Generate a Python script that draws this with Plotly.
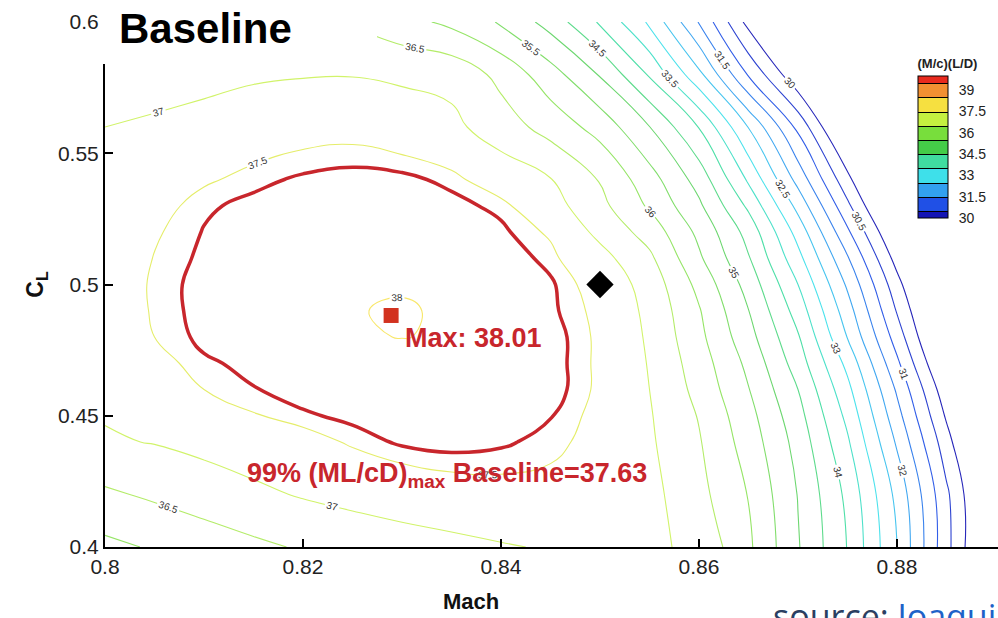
import plotly.graph_objects as go

# ---------------- data ----------------
mach = [0.800, 0.805, 0.810, 0.815, 0.820, 0.825, 0.830, 0.835, 0.840, 0.845,
        0.850, 0.855, 0.860, 0.865, 0.870, 0.875, 0.880, 0.885, 0.890]
cl = [0.40, 0.42, 0.44, 0.45, 0.46, 0.47, 0.48, 0.49, 0.50, 0.51, 0.52, 0.53, 0.54, 0.56, 0.58, 0.60]

ml_d_cl040 = [35.88, 36.05, 36.22, 36.40, 36.55, 36.65, 36.76, 36.86, 36.96, 37.04, 37.08, 37.10, 36.88, 36.09, 35.04, 33.98, 32.50, 30.66, 28.90]
ml_d_cl042 = [36.42, 36.58, 36.75, 36.90, 37.04, 37.16, 37.27, 37.35, 37.40, 37.40, 37.33, 37.15, 36.65, 35.98, 34.98, 33.88, 32.36, 30.60, 28.90]
ml_d_cl044 = [36.95, 37.02, 37.13, 37.25, 37.37, 37.54, 37.66, 37.70, 37.66, 37.57, 37.40, 37.07, 36.54, 35.78, 34.82, 33.57, 31.93, 30.20, 28.50]
ml_d_cl045 = [37.03, 37.18, 37.33, 37.48, 37.60, 37.68, 37.76, 37.79, 37.74, 37.64, 37.42, 37.04, 36.47, 35.67, 34.68, 33.37, 31.68, 29.93, 28.25]
ml_d_cl046 = [37.12, 37.30, 37.50, 37.62, 37.72, 37.79, 37.84, 37.85, 37.80, 37.72, 37.45, 37.00, 36.35, 35.52, 34.50, 33.14, 31.43, 29.66, 28.00]
ml_d_cl047 = [37.18, 37.40, 37.60, 37.68, 37.77, 37.85, 37.90, 37.90, 37.84, 37.72, 37.45, 36.97, 36.25, 35.38, 34.26, 32.86, 31.10, 29.30, 27.60]
ml_d_cl048 = [37.25, 37.50, 37.68, 37.81, 37.91, 37.98, 38.005, 37.98, 37.87, 37.72, 37.45, 36.93, 36.13, 35.18, 34.05, 32.48, 30.77, 28.98, 27.30]
ml_d_cl049 = [37.28, 37.53, 37.70, 37.83, 37.92, 37.995, 38.01, 37.985, 37.86, 37.67, 37.43, 36.88, 36.04, 35.01, 33.79, 32.22, 30.46, 28.80, 27.10]
ml_d_cl050 = [37.28, 37.54, 37.70, 37.82, 37.91, 37.97, 37.99, 37.95, 37.82, 37.66, 37.36, 36.80, 35.86, 34.81, 33.50, 31.92, 30.18, 28.50, 26.80]
ml_d_cl051 = [37.27, 37.51, 37.67, 37.78, 37.86, 37.91, 37.915, 37.87, 37.75, 37.57, 37.17, 36.60, 35.58, 34.54, 33.16, 31.55, 29.80, 28.10, 26.50]
ml_d_cl052 = [37.25, 37.47, 37.64, 37.73, 37.80, 37.83, 37.82, 37.77, 37.67, 37.46, 36.87, 36.30, 35.38, 34.32, 32.81, 31.09, 29.39, 27.80, 26.20]
ml_d_cl053 = [37.20, 37.39, 37.60, 37.68, 37.73, 37.77, 37.76, 37.69, 37.58, 37.20, 36.64, 35.93, 35.09, 33.90, 32.34, 30.61, 28.90, 27.30, 25.70]
ml_d_cl054 = [37.15, 37.30, 37.46, 37.58, 37.66, 37.70, 37.68, 37.58, 37.30, 37.02, 36.47, 35.71, 34.80, 33.42, 31.83, 30.14, 28.70, 27.10, 25.50]
ml_d_cl056 = [37.00, 37.05, 37.15, 37.30, 37.38, 37.40, 37.30, 37.12, 36.74, 36.31, 35.81, 35.01, 33.98, 32.48, 30.88, 29.09, 27.30, 25.50, 23.70]
ml_d_cl058 = [36.80, 36.86, 36.87, 36.93, 36.97, 36.98, 36.91, 36.85, 36.36, 35.71, 34.96, 33.94, 32.63, 30.95, 29.56, 28.20, 26.80, 25.40, 24.00]
ml_d_cl060 = [36.72, 36.74, 36.72, 36.65, 36.57, 36.44, 36.18, 35.88, 35.45, 34.80, 33.94, 32.92, 31.47, 29.82, 28.20, 26.60, 25.00, 23.40, 21.80]

z_rows = [ml_d_cl040, ml_d_cl042, ml_d_cl044, ml_d_cl045, ml_d_cl046, ml_d_cl047,
          ml_d_cl048, ml_d_cl049, ml_d_cl050, ml_d_cl051, ml_d_cl052, ml_d_cl053,
          ml_d_cl054, ml_d_cl056, ml_d_cl058, ml_d_cl060]

max_point = (0.8289, 0.4882)
max_value = 38.01
design_point = (0.850, 0.500)
threshold_99 = 37.63

x_ticks = [0.80, 0.82, 0.84, 0.86, 0.88]
x_ticktext = ["0.8", "0.82", "0.84", "0.86", "0.88"]
y_ticks = [0.40, 0.45, 0.50, 0.55, 0.60]
y_ticktext = ["0.4", "0.45", "0.5", "0.55", "0.6"]
cbar_ticks = [30, 31.5, 33, 34.5, 36, 37.5, 39]
cbar_min, cbar_max = 30, 40

# ---------------- styling ----------------
FONT = "Liberation Sans, Arial, Helvetica, sans-serif"
RED = "#c8262c"
cscale = [
    [0.00, "#1414b4"], [0.10, "#2050e6"], [0.20, "#32a0f0"], [0.30, "#3ee0ea"],
    [0.40, "#40dca0"], [0.50, "#44cc48"], [0.60, "#78de3c"], [0.70, "#c4f040"],
    [0.80, "#f6e040"], [0.90, "#f29032"], [1.00, "#e82a1e"],
]


def lighten(hex_col, amount):
    r, g, b = (int(hex_col[i:i + 2], 16) for i in (1, 3, 5))
    r, g, b = (round(c + (255 - c) * amount) for c in (r, g, b))
    return f"rgb({r},{g},{b})"


# thin iso-lines look paler than the legend bands in the source image
cscale_lines = [[f, lighten(c, 0.22 if f >= 0.5 else 0.08)] for f, c in cscale]

fig = go.Figure()

# coloured, labelled iso-lines
fig.add_trace(go.Contour(
    x=mach, y=cl, z=z_rows,
    colorscale=cscale_lines,
    autocontour=False,
    contours=dict(start=cbar_min, end=cbar_max, size=0.5, coloring="lines", showlabels=True,
                  labelfont=dict(size=10, color="#333333", family=FONT)),
    line=dict(width=1.1, smoothing=1.3),
    showscale=False, hoverinfo="skip",
))

# 99% (ML/cD)max contour
fig.add_trace(go.Contour(
    x=mach, y=cl, z=z_rows,
    autocontour=False,
    contours=dict(start=threshold_99, end=threshold_99, size=1, coloring="none"),
    line=dict(color=RED, width=3.5, smoothing=1.3),
    showscale=False, hoverinfo="skip",
))

# colour legend (dummy filled contour on hidden axes, range 30..40)
fig.add_trace(go.Contour(
    x=mach, y=cl, z=z_rows, xaxis="x2", yaxis="y2",
    colorscale=cscale,
    autocontour=False,
    contours=dict(start=cbar_min + 0.5, end=cbar_max - 0.5, size=1, coloring="fill"),
    line=dict(color="black", width=1),
    showscale=True, hoverinfo="skip",
    colorbar=dict(
        x=(918 - 105) / 893, xanchor="left", y=(547 - 56) / 525, yanchor="top",
        lenmode="pixels", len=162, thickness=30,
        outlinewidth=1, outlinecolor="black",
        tickvals=cbar_ticks, ticks="outside", ticklen=8, tickcolor="rgba(0,0,0,0)",
        tickfont=dict(size=14, color="#222", family=FONT),
        title=dict(text="<b>(M/c)(L/D)</b>", side="top", font=dict(size=13, color="#222", family=FONT)),
        ypad=0, xpad=0,
    ),
))

# markers
fig.add_trace(go.Scatter(x=[max_point[0]], y=[max_point[1]], mode="markers",
                         marker=dict(symbol="square", size=15, color="#d2321f"),
                         showlegend=False, hoverinfo="skip"))
fig.add_trace(go.Scatter(x=[design_point[0]], y=[design_point[1]], mode="markers",
                         marker=dict(symbol="diamond", size=21, color="black"),
                         showlegend=False, hoverinfo="skip"))

fig.add_annotation(x=0.8301, y=0.4798, xref="x", yref="y", xanchor="left", yanchor="middle",
                   text=f"<b>Max: {max_value:.2f}</b>", showarrow=False,
                   font=dict(size=27, color=RED, family=FONT))
fig.add_annotation(x=0.8141, y=0.4275, xref="x", yref="y", xanchor="left", yanchor="middle",
                   text=f"<b>99% (ML/cD)<sub>max</sub> Baseline={threshold_99:.2f}</b>", showarrow=False,
                   font=dict(size=27, color=RED, family=FONT))

# white title box over the top-left corner, as in the source image
fig.add_shape(type="rect", xref="paper", yref="paper",
              x0=-6 / 893, x1=(377 - 105) / 893, y0=(547 - 64) / 525, y1=1.1,
              fillcolor="white", line=dict(width=0), layer="above")
fig.add_annotation(x=(117 - 105) / 893, y=(547 - 28) / 525, xref="paper", yref="paper",
                   xanchor="left", yanchor="middle", text="<b>Baseline</b>", showarrow=False,
                   font=dict(size=42, color="black", family=FONT))
fig.add_annotation(x=(471 - 105) / 893, y=-(601 - 547) / 525, xref="paper", yref="paper",
                   xanchor="center", yanchor="middle", text="<b>Mach</b>", showarrow=False,
                   font=dict(size=22, color="#111", family=FONT))
fig.add_annotation(x=(771 - 105) / 893, y=-(591 - 547) / 525, xref="paper", yref="paper",
                   xanchor="left", yanchor="top",
                   text="<span style='color:#2b3f62'>source: </span>Joaquim R. R. A. Martins",
                   showarrow=False, font=dict(size=34, color="#1e62c8", family="Open Sans, sans-serif"))

fig.update_layout(
    width=998, height=618,
    margin=dict(l=105, r=0, t=22, b=71),
    paper_bgcolor="white", plot_bgcolor="white",
    font=dict(family=FONT, color="#111"),
    showlegend=False,
    xaxis=dict(range=[0.8, 0.8 + 893 / 9900], tickvals=x_ticks, ticktext=x_ticktext,
               ticks="inside", ticklen=8, tickwidth=1.5, tickcolor="black",
               showline=True, linecolor="black", linewidth=2, showgrid=False, zeroline=False,
               tickfont=dict(size=21, color="#222", family=FONT)),
    yaxis=dict(range=[0.4, 0.6], tickvals=y_ticks, ticktext=y_ticktext,
               ticks="inside", ticklen=8, tickwidth=1.5, tickcolor="black",
               showline=True, linecolor="black", linewidth=2, showgrid=False, zeroline=False,
               tickfont=dict(size=21, color="#222", family=FONT),
               title=dict(text="<b>C<sub>L</sub></b>", standoff=8, font=dict(size=23, color="#111"))),
    xaxis2=dict(overlaying="x", range=[10, 11], visible=False),
    yaxis2=dict(overlaying="y", range=[10, 11], visible=False),
)

fig.write_html("out.html")
